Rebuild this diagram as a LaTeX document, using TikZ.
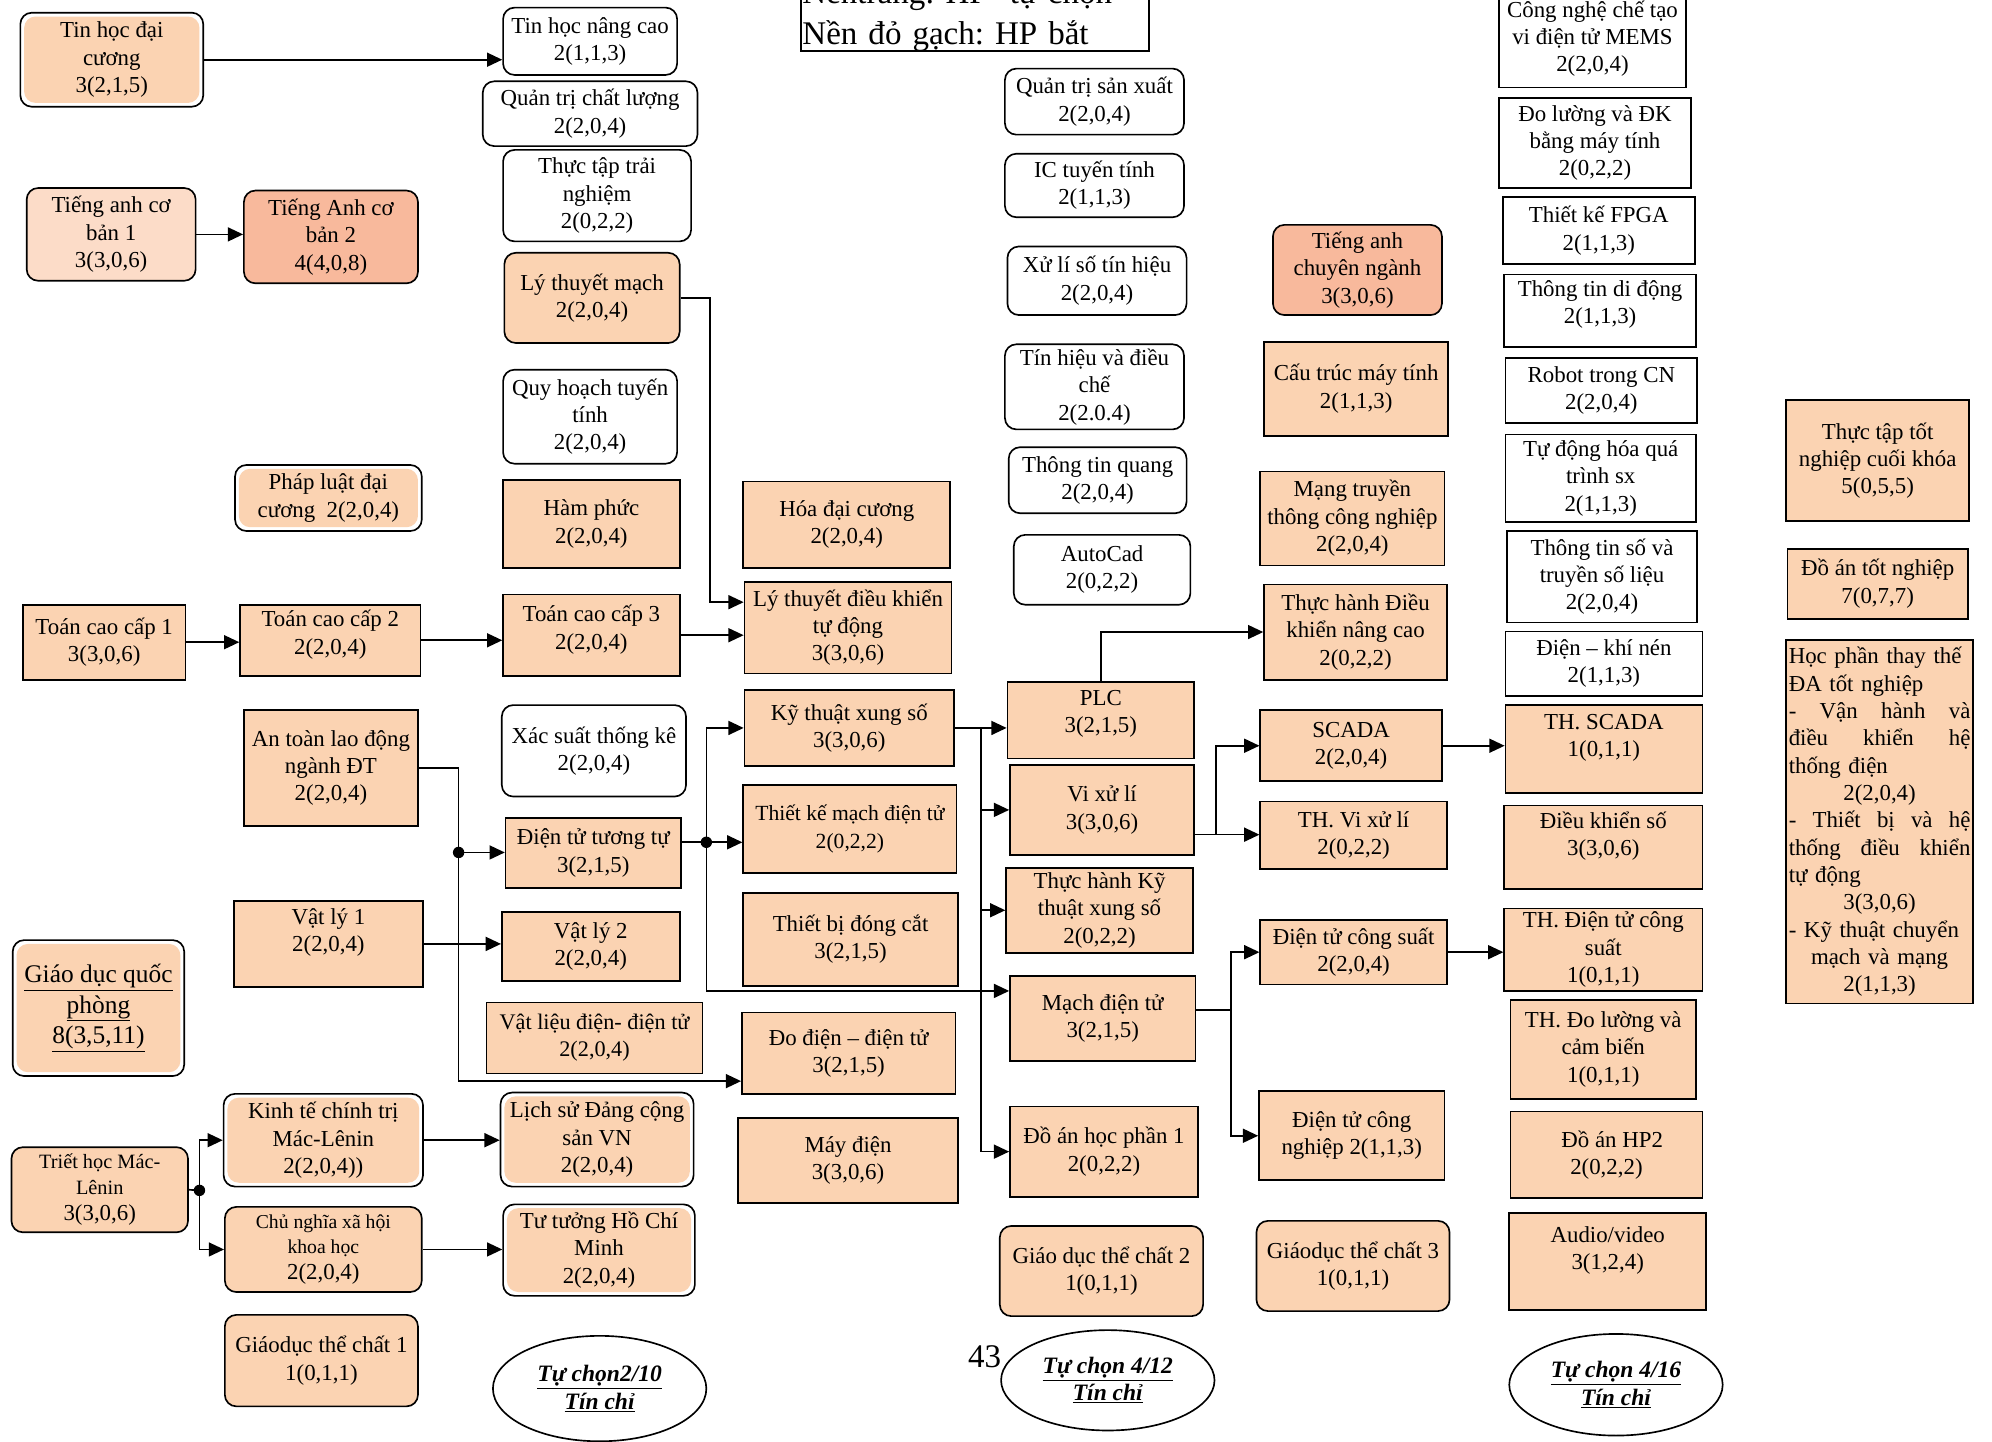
\documentclass[tikz,border=0pt]{standalone}
\usepackage{fontspec}
\setmainfont{Liberation Serif}
\frenchspacing
\usetikzlibrary{arrows.meta,shapes.geometric}
\definecolor{peach}{HTML}{FBD3B2}
\definecolor{salmon}{HTML}{F8B99C}
\definecolor{lightpeach}{HTML}{FCDCC8}

\begin{document}
\begin{tikzpicture}[x=1pt, y=-1pt,
    hp/.style={draw, line width=1.3pt, fill=peach, align=center, inner sep=1pt,
      font=\fontsize{18}{21.5}\selectfont},
    hpround/.style={hp, rounded corners=9pt},
    hpinset/.style={hpround, fill=white, path picture={\fill[peach]
      ([xshift=3pt,yshift=-3pt]path picture bounding box.north west) rectangle
      ([xshift=-3pt,yshift=3pt]path picture bounding box.south east);}},
    optround/.style={hp, fill=white, rounded corners=9pt},
    optbox/.style={hp, fill=white},
    sz/.style 2 args={minimum width=#1pt, minimum height=#2pt},
    oval/.style={ellipse, draw, line width=1.3pt, align=center, inner sep=0pt,
      font=\fontsize{18.5}{21.5}\selectfont\bfseries\itshape},
    link/.style={line width=1.3pt},
    arr/.style={link, -{Triangle[length=12pt,width=11pt]}}]
      \useasboundingbox (0,0) rectangle (1568,1135);
      \fill [white] (0,0) rectangle (1568,1135);

      % Legend
      \node[draw, line width=1.3pt, anchor=south west, text width=272pt, align=left,
        inner ysep=0pt, inner xsep=1pt, font=\fontsize{26}{32}\selectfont] (nen) at (630,41)
        {Nềntrắng: HP~ tự chọn\\Nền đỏ gạch: HP bắt};

      % Column 1
      \node[hpinset, sz={144}{74}] (thdc) at (88,47) {Tin học đại\\cương\\3(2,1,5)};
      \node[hpround, fill=lightpeach, sz={133}{73}] (tacb1) at (87.5,184.5) {Tiếng anh cơ\\bản 1\\3(3,0,6)};
      \node[hpround, fill=salmon, sz={137}{73}] (tacb2) at (260.5,186.5) {Tiếng Anh cơ\\bản 2\\4(4,0,8)};
      \node[hpinset, sz={147}{52}] (pldc) at (258.5,392) {Pháp luật đại\\cương~~2(2,0,4)};
      \node[hp, sz={128}{59}] (tcc1) at (82,505.5) {Toán cao cấp 1\\3(3,0,6)};
      \node[hp, sz={142}{56}] (tcc2) at (260,504) {Toán cao cấp 2\\2(2,0,4)\\[-9pt]~};
      \node[hp, sz={137}{91}] (atld) at (260.5,604.5) {An toàn lao động\\ngành ĐT\\2(2,0,4)};
      \node[hp, sz={149}{68}] (vl1) at (258.5,743) {Vật lý 1\\2(2,0,4)\\~};
      \node[hpinset, sz={135}{107}, font=\fontsize{20}{24}\selectfont] (gdqp) at (77.5,793.5)
        {\underline{Giáo dục quốc}\\\underline{phòng}\\\underline{8(3,5,11)}};
      \node[hpround, sz={139}{67}, font=\fontsize{16}{20.5}\selectfont] (thml) at (78.5,936.5)
        {Triết học Mác-\\Lênin\\{\fontsize{18}{21.5}\selectfont 3(3,0,6)}};
      \node[hpinset, sz={157}{73}] (ktct) at (254.5,897.5) {Kinh tế chính trị\\Mác-Lênin\\2(2,0,4))};
      \node[hpround, sz={155}{67}, font=\fontsize{15.5}{20}\selectfont] (cnxh) at (254.5,983.5)
        {Chủ nghĩa xã hội\\khoa học\\{\fontsize{18}{21.5}\selectfont 2(2,0,4)}};
      \node[hpround, sz={152}{72}] (gdtc1) at (253,1071) {Giáodục thể chất 1\\1(0,1,1)};

      % Column 2
      \node[optround, sz={137}{53}] (thnc) at (464.5,32.5) {Tin học nâng cao\\2(1,1,3)};
      \node[optround, sz={169}{51}] (qtcl) at (464.5,89.5) {Quản trị chất lượng\\2(2,0,4)};
      \node[optround, sz={148}{72}] (tttn) at (470,154) {Thực tập trải\\nghiệm\\2(0,2,2)};
      \node[hpround, sz={138}{71}] (ltm) at (466,234.5) {Lý thuyết mạch\\2(2,0,4)};
      \node[optround, sz={137}{74}] (qhtt) at (464.5,328) {Quy hoạch tuyến\\tính\\2(2,0,4)};
      \node[hp, sz={139}{69}] (hphuc) at (465.5,412.5) {Hàm phức\\2(2,0,4)};
      \node[hp, sz={139}{64}] (tcc3) at (465.5,500) {Toán cao cấp 3\\2(2,0,4)\\[-9pt]~};
      \node[optround, sz={145}{72}] (xstk) at (467.5,591) {Xác suất thống kê\\2(2,0,4)};
      \node[hp, sz={138}{55}] (dttt) at (467,671.5) {Điện tử tương tự\\3(2,1,5)};
      \node[hp, sz={140}{54}] (vl2) at (465,745) {Vật lý 2\\2(2,0,4)};
      \node[hp, sz={170}{56}, font=\fontsize{17.5}{21.5}\selectfont] (vldt) at (468,817) {Vật liệu điện- điện tử\\2(2,0,4)};
      \node[hpinset, sz={152}{74}] (lsd) at (470,897) {Lịch sử Đảng cộng\\sản VN\\2(2,0,4)};
      \node[hpinset, sz={151}{72}] (tthcm) at (471.5,984) {Tư tưởng Hồ Chí\\Minh\\2(2,0,4)};
      \node[oval, minimum width=168pt, minimum height=83pt] (tc1) at (472,1093)
        {\underline{Tự chọn2/10}\\\underline{Tín chỉ}};

      % Column 3
      \node[hp, sz={163}{68}] (hdc) at (666.5,413) {Hóa đại cương\\2(2,0,4)};
      \node[hp, sz={163}{72}] (ltdk) at (667.5,494) {Lý thuyết điều khiển\\tự động\\3(3,0,6)};
      \node[hp, sz={165}{60}] (ktxs) at (668.5,573) {Kỹ thuật xung số\\3(3,0,6)};
      \node[hp, sz={168}{69}, font=\fontsize{17}{21.5}\selectfont] (tkmdt) at (669,652.5) {Thiết kế mạch điện tử\\2(0,2,2)};
      \node[hp, sz={169}{73}] (tbdc) at (669.5,739.5) {Thiết bị đóng cắt\\3(2,1,5)};
      \node[hp, sz={168}{64}] (dddt) at (668,829) {Đo điện – điện tử\\3(2,1,5)};
      \node[hp, sz={173}{67}] (mdien) at (667.5,913.5) {Máy điện\\3(3,0,6)};

      % Column 4
      \node[optround, sz={141}{52}] (qtsx) at (861.5,80) {Quản trị sản xuất\\2(2,0,4)};
      \node[optround, sz={141}{50}] (ictt) at (861.5,146) {IC tuyến tính\\2(1,1,3)};
      \node[optround, sz={141}{54}] (xlsth) at (863.5,221) {Xử lí số tín hiệu\\2(2,0,4)};
      \node[optround, sz={141}{67}] (thdch) at (861.5,304.5) {Tín hiệu và điều\\chế\\2(2.0.4)};
      \node[optround, sz={140}{52}] (ttq) at (864,378) {Thông tin quang\\2(2,0,4)};
      \node[optround, sz={139}{55}] (acad) at (867.5,448.5) {AutoCad\\2(0,2,2)};
      \node[hp, sz={147}{60}] (plc) at (866.5,567) {PLC\\3(2,1,5)\\[-8pt]~};
      \node[hp, sz={145}{71}] (vxl) at (867.5,637.5) {Vi xử lí\\3(3,0,6)};
      \node[hp, sz={147}{67}] (thktxs) at (865.5,716.5) {Thực hành Kỹ\\thuật xung số\\2(0,2,2)};
      \node[hp, sz={146}{67}] (mdt) at (868,801.5) {Mạch điện tử\\3(2,1,5)};
      \node[hp, sz={148}{71}] (dahp1) at (869,906.5) {Đồ án học phần 1\\2(0,2,2)};
      \node[hpround, sz={160}{71}] (gdtc2) at (867,1000.5) {Giáo dục thể chất 2\\1(0,1,1)};
      \node[font=\fontsize{26}{30}\selectfont, inner sep=0pt] (trang) at (775,1068) {43};
      \node[oval, minimum width=168pt, minimum height=79pt] (tc2) at (872,1086.5)
        {\underline{Tự chọn 4/12}\\\underline{Tín chỉ}};

      % Column 5
      \node[hpround, fill=salmon, sz={133}{71}] (tacn) at (1068.5,212.5) {Tiếng anh\\chuyên ngành\\3(3,0,6)};
      \node[hp, sz={145}{74}] (ctmt) at (1067.5,306) {Cấu trúc máy tính\\2(1,1,3)};
      \node[hp, sz={145}{74}] (mttcn) at (1064.5,408) {Mạng truyền\\thông công nghiệp\\2(2,0,4)};
      \node[hp, sz={144}{75}] (thdknc) at (1067,497.5) {Thực hành Điều\\khiển nâng cao\\2(0,2,2)};
      \node[hp, sz={143}{56}] (scada) at (1063.5,587) {SCADA\\2(2,0,4)};
      \node[hp, sz={147}{53}] (thvxl) at (1065.5,657.5) {TH. Vi xử lí\\2(0,2,2)};
      \node[hp, sz={147}{51}] (dtcs) at (1065.5,749.5) {Điện tử công suất\\2(2,0,4)};
      \node[hp, sz={146}{70}] (dtcn) at (1064,894) {Điện tử công\\nghiệp 2(1,1,3)};
      \node[hpround, sz={152}{71}] (gdtc3) at (1065,996.5) {Giáodục thể chất 3\\1(0,1,1)};

      % Column 6
      \node[optbox, sz={147}{77}] (mems) at (1253.5,30.5) {Công nghệ chế tạo\\vi điện tử MEMS\\2(2,0,4)};
      \node[optbox, sz={151}{71}] (dlmt) at (1255.5,112.5) {Đo lường và ĐK\\bằng máy tính\\2(0,2,2)};
      \node[optbox, sz={151}{53}] (fpga) at (1258.5,181.5) {Thiết kế FPGA\\2(1,1,3)};
      \node[optbox, sz={151}{57}] (ttdd) at (1259.5,244.5) {Thông tin di động\\2(1,1,3)\\[-8pt]~};
      \node[optbox, sz={151}{51}] (robot) at (1260.5,307.5) {Robot trong CN\\2(2,0,4)};
      \node[optbox, sz={150}{69}] (tdh) at (1260,376.5) {Tự động hóa quá\\trình sx\\2(1,1,3)};
      \node[optbox, sz={150}{72}] (ttstsl) at (1261,454) {Thông tin số và\\truyền số liệu\\2(2,0,4)};
      \node[optbox, sz={155}{51}] (dkn) at (1262.5,522.5) {Điện – khí nén\\2(1,1,3)};
      \node[hp, sz={155}{69}] (thscada) at (1262.5,589.5) {TH. SCADA\\1(0,1,1)\\~};
      \node[hp, sz={156}{66}] (dks) at (1262,667) {Điều khiển số\\3(3,0,6)\\~};
      \node[hp, sz={156}{65}] (thdtcs) at (1262,747.5) {TH. Điện tử công\\suất\\1(0,1,1)};
      \node[hp, sz={146}{78}] (thdlcb) at (1262,826) {TH. Đo lường và\\cảm biến\\1(0,1,1)};
      \node[hp, sz={151}{68}] (dahp2) at (1264.5,909) {~~Đồ án HP2\\2(0,2,2)};
      \node[hp, sz={155}{76}] (av) at (1265.5,993) {Audio/video\\3(1,2,4)\\~};
      \node[oval, minimum width=168pt, minimum height=80pt] (tc3) at (1272,1090)
        {\underline{Tự chọn 4/16}\\\underline{Tín chỉ}};

      % Column 7
      \node[hp, sz={144}{95}] (tttn2) at (1478,362.5) {Thực tập tốt\\nghiệp cuối khóa\\5(0,5,5)};
      \node[hp, sz={142}{55}] (datn) at (1478,459.5) {Đồ án tốt nghiệp\\7(0,7,7)};
      \node[hp, sz={147}{286}, text width=143pt, align=left] (hptt) at (1479.5,647)
        {Học phần thay thế\\ĐA tốt nghiệp\\
         \makebox[143pt]{-\hfill Vận\hfill hành\hfill và}\\\makebox[143pt]{điều\hfill khiển\hfill hệ}\\thống điện\\
         \makebox[143pt]{2(2,0,4)}\\
         \makebox[143pt]{-\hfill Thiết\hfill bị\hfill và\hfill hệ}\\\makebox[143pt]{thống\hfill điều\hfill khiển}\\tự động\\
         \makebox[143pt]{3(3,0,6)}\\
         - Kỹ thuật chuyển\\\makebox[143pt]{mạch và mạng}\\\makebox[143pt]{2(1,1,3)}};

      % Connectors
      \coordinate (j1) at (361,671);
      \coordinate (j2) at (556,663);
      \coordinate (b1) at (772,573);
      \coordinate (j3) at (957,657);
      \coordinate (j4) at (969,795);
      \coordinate (j5) at (157,937);

      \draw[arr] (thdc.east) -- (thdc.east -| thnc.west);
      \draw[arr] (tacb1.east) -- (tacb1.east -| tacb2.west);
      \draw[arr] (tcc1.east) -- (tcc1.east -| tcc2.west);
      \draw[arr] (tcc2.east) -- (tcc2.east -| tcc3.west);
      \draw[arr] (tcc3.east) -- (tcc3.east -| ltdk.west);
      \draw[arr] (ltm.east) -- ++(23,0) |- ([yshift=20pt]ltdk.west);
      \draw[arr] (vl1.east) -- (vl1.east -| vl2.west);

      \draw[link] (atld.east) -| (j1);
      \draw[arr] (j1) -- (j1 -| dttt.west);
      \draw[arr] (j1) |- ([yshift=-22pt]dddt.west);

      \draw[link] (dttt.east |- j2) -- (j2);
      \draw[arr] (j2) |- (ktxs.west);
      \draw[arr] (j2) -- (j2 -| tkmdt.west);
      \draw[arr] (j2) |- ([yshift=21.5pt]mdt.west);

      \draw[arr] (ktxs.east) -- (ktxs.east -| plc.west);
      \draw[arr] (b1) |- (vxl.west);
      \draw[arr] (b1) |- (thktxs.west);
      \draw[arr] (b1) |- (dahp1.west);
      \draw[arr] (plc.north) |- (thdknc.west);

      \draw[link] (vxl.east |- j3) -- (j3);
      \draw[arr] (j3) |- (scada.west);
      \draw[arr] (j3) -- (j3 -| thvxl.west);
      \draw[arr] (scada.east) -- (scada.east -| thscada.west);

      \draw[link] (mdt.east |- j4) -- (j4);
      \draw[arr] (j4) |- (dtcs.west);
      \draw[arr] (j4) |- (dtcn.west);
      \draw[arr] (dtcs.east) -- (dtcs.east -| thdtcs.west);

      \draw[link] (thml.east) -- (j5);
      \draw[arr] (j5) |- (ktct.west);
      \draw[arr] (j5) |- (cnxh.west);
      \draw[arr] (ktct.east) -- (ktct.east -| lsd.west);
      \draw[arr] (cnxh.east) -- (cnxh.east -| tthcm.west);

      % Dots
      \fill (j1) circle (4.5pt);
      \fill (j2) circle (4.5pt);
      \fill (j5) circle (4.5pt);
    \end{tikzpicture}
\end{document}
